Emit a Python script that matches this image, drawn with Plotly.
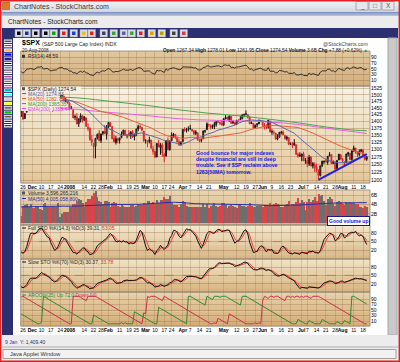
import numpy as np
import pandas as pd
import plotly.graph_objects as go

W, H = 400, 362
FONT = "Liberation Sans"

# ---------------- DATA ----------------
holidays = ["2007-11-22", "2007-12-25", "2008-01-01", "2008-01-21", "2008-02-18",
            "2008-03-21", "2008-05-26", "2008-07-04"]

# warm-up history (Sep 4 - Nov 21 2007), used only for indicator look-back
prior_close = [1489.4, 1472.3, 1478.6, 1453.6, 1451.7, 1471.5, 1471.6, 1483.9, 1484.3, 1476.7, 1519.8, 1529.0, 1518.8, 1525.8, 1517.7, 1517.2, 1525.4, 1531.4, 1526.8,
               1547.0, 1546.6, 1539.6, 1542.8, 1557.6, 1552.6, 1565.2, 1562.5, 1554.4, 1561.8, 1548.7, 1538.5, 1541.2, 1540.1, 1500.6, 1506.3, 1519.6, 1515.9, 1514.4, 1535.3, 1541.0, 1531.0, 1549.4,
               1508.4, 1509.7, 1502.2, 1520.3, 1475.6, 1474.8, 1453.7, 1439.2, 1481.1, 1470.6, 1451.2, 1458.7, 1433.3, 1439.7, 1416.8]
prior_high = [1496.4, 1488.8, 1481.5, 1478.6, 1462.8, 1472.4, 1479.5, 1489.6, 1486.0, 1484.3, 1519.9, 1538.7, 1529.1, 1530.9, 1530.2, 1518.0, 1529.4, 1532.0, 1533.7,
              1549.0, 1548.0, 1546.6, 1544.8, 1561.9, 1557.6, 1565.4, 1565.3, 1576.1, 1563.0, 1564.7, 1548.7, 1552.8, 1541.2, 1540.1, 1508.1, 1520.2, 1519.6, 1523.2, 1535.5, 1544.7, 1541.0, 1552.8,
              1549.4, 1513.2, 1510.8, 1520.8, 1515.5, 1482.5, 1474.8, 1464.9, 1481.4, 1492.1, 1472.4, 1462.2, 1458.7, 1452.6, 1439.7]
prior_low = [1472.2, 1466.3, 1467.4, 1449.1, 1439.3, 1451.7, 1465.8, 1471.6, 1473.2, 1471.8, 1476.7, 1519.8, 1516.4, 1518.8, 1516.2, 1507.1, 1518.8, 1525.4, 1521.0,
             1527.3, 1540.4, 1536.3, 1537.6, 1542.8, 1549.0, 1551.8, 1555.5, 1546.7, 1554.4, 1540.8, 1537.9, 1529.4, 1529.0, 1500.3, 1490.4, 1503.6, 1489.6, 1500.5, 1514.4, 1535.3, 1529.6, 1531.0,
             1506.8, 1492.5, 1489.6, 1499.1, 1475.0, 1450.3, 1453.0, 1438.5, 1439.2, 1466.5, 1443.5, 1443.9, 1430.0, 1419.3, 1415.5]
prior_vol = [2.6, 2.6, 2.4, 3.2, 2.8, 2.8, 2.7, 2.9, 2.6, 2.6, 3.7, 3.6, 2.9, 3.7, 3.0, 3.2, 3.1, 2.9, 2.9,
             3.3, 3.0, 3.1, 2.7, 2.9, 2.0, 2.9, 3.0, 3.9, 2.8, 3.1, 3.2, 3.6, 3.2, 4.0, 3.5, 3.0, 4.0, 4.2, 3.6, 3.1, 3.2, 3.9,
             4.2, 4.7, 3.8, 3.9, 4.4, 5.4, 4.6, 4.2, 4.1, 4.0, 3.9, 4.2, 4.2, 4.9, 4.1]

# visible period: Nov 23 2007 - Aug 20 2008 (daily)
open_ = [1417.0, 1440.7, 1409.6, 1432.9, 1467.4, 1471.8,
         1479.6, 1471.3, 1465.4, 1484.6, 1508.6, 1505.1, 1516.7, 1487.6, 1483.3, 1486.2, 1465.1, 1445.9, 1454.7, 1456.4, 1463.2, 1484.6, 1495.1, 1495.1, 1479.8, 1475.3,
         1468.0, 1447.6, 1444.0, 1414.1, 1415.7, 1390.3, 1406.8, 1419.9, 1402.9, 1411.9, 1377.4, 1374.6, 1333.9, 1312.9, 1310.4, 1340.1, 1357.3, 1330.7, 1355.9, 1362.2, 1352.0,
         1378.6, 1395.4, 1380.3, 1339.5, 1324.0, 1336.9, 1331.9, 1340.6, 1353.1, 1367.3, 1347.5, 1355.9, 1348.4, 1362.2, 1344.2, 1352.8, 1371.8, 1379.0, 1378.2, 1364.1,
         1330.5, 1329.6, 1327.7, 1332.2, 1301.5, 1293.2, 1274.4, 1321.1, 1305.3, 1316.1, 1283.2, 1277.2, 1331.0, 1299.7, 1330.3, 1349.1, 1352.5, 1340.3, 1327.0, 1315.9,
         1326.4, 1370.0, 1365.7, 1369.9, 1373.7, 1370.2, 1365.5, 1355.4, 1358.0, 1332.2, 1331.7, 1337.0, 1363.4, 1369.0, 1387.7, 1386.4, 1378.4, 1380.5, 1387.8, 1398.0, 1395.6, 1391.2,
         1386.0, 1409.2, 1415.3, 1405.6, 1417.5, 1394.3, 1394.9, 1389.4, 1404.4, 1405.7, 1408.4, 1423.9, 1425.3, 1424.5, 1414.1, 1390.8, 1392.2, 1376.0, 1386.5, 1390.5, 1398.4,
         1399.6, 1386.4, 1376.3, 1377.5, 1400.1, 1360.8, 1359.0, 1357.1, 1335.8, 1341.8, 1358.9, 1360.7, 1349.6, 1336.9, 1341.0, 1319.8, 1317.2, 1314.5, 1316.3, 1283.6, 1278.1,
         1276.7, 1285.8, 1263.0, 1262.9, 1251.8, 1273.4, 1245.3, 1248.7, 1241.6, 1226.8, 1214.6, 1246.3, 1258.2, 1261.8, 1257.1, 1278.9, 1283.2, 1253.1, 1257.8, 1236.4, 1264.5, 1281.4,
         1269.4, 1253.3, 1254.9, 1284.0, 1286.5, 1266.3, 1294.4, 1304.8, 1288.6, 1282.1, 1293.9, 1298.1, 1276.7, 1267.34]
high = [1440.9, 1446.1, 1429.5, 1471.6, 1473.8, 1488.9,
        1481.2, 1471.3, 1486.1, 1508.0, 1510.6, 1518.3, 1523.6, 1512.0, 1489.4, 1486.7, 1465.1, 1460.2, 1464.4, 1461.5, 1485.4, 1497.6, 1498.9, 1495.1, 1488.0, 1475.8,
        1471.8, 1456.8, 1444.0, 1423.9, 1430.3, 1409.2, 1429.1, 1419.9, 1417.9, 1411.9, 1392.0, 1377.5, 1350.3, 1322.0, 1339.1, 1355.2, 1368.6, 1354.0, 1364.9, 1385.9, 1385.6,
        1396.0, 1395.4, 1380.3, 1352.0, 1347.2, 1341.2, 1341.4, 1362.7, 1369.2, 1368.2, 1350.0, 1367.3, 1363.7, 1367.9, 1354.3, 1372.0, 1387.3, 1388.3, 1378.2, 1364.1,
        1335.1, 1331.0, 1344.2, 1332.2, 1313.2, 1295.0, 1320.7, 1333.3, 1321.7, 1321.5, 1287.5, 1330.7, 1341.5, 1330.7, 1359.7, 1357.5, 1352.5, 1345.6, 1334.9, 1328.5,
        1370.2, 1378.0, 1375.7, 1380.9, 1386.7, 1370.2, 1368.4, 1367.2, 1358.0, 1335.6, 1337.7, 1365.5, 1368.6, 1395.9, 1390.2, 1386.4, 1387.9, 1397.7, 1399.1, 1402.9, 1397.0, 1404.6,
        1410.1, 1422.7, 1415.3, 1421.6, 1419.5, 1402.4, 1394.9, 1404.1, 1406.3, 1420.2, 1424.4, 1425.8, 1440.2, 1424.5, 1419.1, 1399.1, 1392.2, 1387.4, 1391.3, 1406.3, 1404.5,
        1399.6, 1393.1, 1388.2, 1404.1, 1400.1, 1370.6, 1366.8, 1357.1, 1353.0, 1360.0, 1364.7, 1366.6, 1349.6, 1347.7, 1341.0, 1323.8, 1326.0, 1335.6, 1316.3, 1289.5, 1290.3,
        1285.3, 1292.2, 1271.5, 1274.0, 1282.1, 1277.4, 1257.7, 1257.2, 1253.5, 1234.4, 1245.5, 1262.3, 1262.2, 1267.7, 1277.4, 1291.2, 1283.2, 1263.2, 1260.1, 1263.2, 1284.3, 1284.9,
        1270.5, 1260.5, 1284.9, 1291.7, 1286.5, 1297.9, 1313.2, 1304.8, 1294.0, 1300.1, 1302.1, 1300.2, 1276.7, 1278.01]
low = [1417.0, 1406.1, 1407.4, 1432.9, 1458.4, 1470.0,
       1470.1, 1460.7, 1465.4, 1482.2, 1502.7, 1504.7, 1475.9, 1468.2, 1469.2, 1467.8, 1445.4, 1435.6, 1445.3, 1447.5, 1463.2, 1484.6, 1488.2, 1475.9, 1471.7, 1465.1,
       1442.1, 1443.7, 1411.2, 1403.5, 1388.3, 1378.7, 1395.3, 1394.8, 1402.9, 1380.6, 1364.3, 1330.7, 1312.5, 1270.1, 1270.1, 1334.3, 1327.5, 1322.3, 1350.3, 1353.0, 1334.1,
       1375.9, 1379.7, 1336.6, 1324.3, 1316.8, 1321.1, 1320.3, 1339.1, 1350.8, 1347.3, 1338.1, 1345.1, 1336.6, 1339.9, 1331.5, 1346.3, 1363.3, 1372.0, 1363.2, 1325.4,
       1320.0, 1307.4, 1320.7, 1303.4, 1282.4, 1272.7, 1274.4, 1307.9, 1282.1, 1274.9, 1257.0, 1277.2, 1298.4, 1295.2, 1330.3, 1341.2, 1336.4, 1325.7, 1313.0, 1312.8,
       1326.4, 1361.6, 1358.7, 1362.8, 1369.0, 1360.6, 1350.0, 1350.1, 1331.2, 1324.3, 1324.4, 1337.0, 1357.3, 1369.0, 1379.3, 1369.8, 1372.2, 1371.1, 1380.0, 1394.4, 1386.7, 1384.1,
       1383.1, 1406.3, 1404.4, 1397.1, 1391.2, 1389.4, 1384.1, 1386.2, 1396.3, 1405.7, 1406.9, 1414.6, 1421.6, 1409.1, 1388.8, 1390.2, 1373.7, 1373.1, 1378.2, 1388.6, 1398.1,
       1377.8, 1370.1, 1371.7, 1373.1, 1359.9, 1350.7, 1351.6, 1335.5, 1331.3, 1341.7, 1352.1, 1350.5, 1333.4, 1330.4, 1314.5, 1315.3, 1304.4, 1314.5, 1283.2, 1272.0, 1274.9,
       1260.7, 1261.5, 1252.0, 1240.7, 1245.0, 1244.6, 1236.8, 1225.4, 1225.0, 1200.4, 1211.4, 1241.4, 1251.8, 1255.7, 1248.8, 1276.1, 1251.5, 1251.8, 1234.4, 1236.4, 1264.5, 1266.0,
       1254.5, 1247.5, 1254.7, 1276.0, 1264.3, 1262.1, 1292.8, 1285.6, 1274.9, 1276.8, 1290.7, 1274.5, 1263.1, 1261.95]
close = [1440.7, 1407.2, 1428.2, 1469.0, 1470.0, 1481.1,
         1472.4, 1462.8, 1485.0, 1507.3, 1504.7, 1516.0, 1477.7, 1486.6, 1488.4, 1468.0, 1445.9, 1455.0, 1453.0, 1460.1, 1484.5, 1496.5, 1497.7, 1476.3, 1478.5, 1468.4,
         1447.2, 1447.2, 1411.6, 1416.2, 1390.2, 1409.1, 1420.3, 1401.0, 1416.3, 1381.0, 1373.2, 1333.3, 1325.2, 1310.5, 1338.6, 1352.1, 1330.6, 1354.0, 1362.3, 1355.8, 1378.6,
         1395.4, 1380.8, 1336.6, 1326.5, 1336.9, 1331.3, 1339.1, 1348.9, 1367.2, 1348.9, 1350.0, 1348.8, 1360.0, 1342.5, 1353.1, 1371.8, 1381.3, 1380.0, 1367.7, 1330.6,
         1331.3, 1326.8, 1333.7, 1304.3, 1293.4, 1273.4, 1320.7, 1308.8, 1315.5, 1288.1, 1276.6, 1330.7, 1298.4, 1329.5, 1349.9, 1353.0, 1341.1, 1325.8, 1315.2, 1322.7,
         1370.2, 1367.5, 1369.3, 1370.4, 1372.5, 1365.5, 1354.5, 1360.6, 1332.8, 1328.3, 1334.4, 1364.7, 1365.6, 1390.3, 1388.2, 1375.9, 1379.9, 1388.8, 1397.8, 1396.4, 1390.9, 1385.6,
         1409.3, 1413.9, 1407.5, 1418.3, 1392.6, 1397.7, 1388.3, 1403.6, 1403.0, 1408.7, 1423.6, 1425.4, 1426.6, 1413.4, 1390.7, 1394.4, 1375.9, 1385.4, 1390.8, 1398.3, 1400.4,
         1385.7, 1377.7, 1377.2, 1404.1, 1360.7, 1361.8, 1358.4, 1335.5, 1339.9, 1360.0, 1360.1, 1350.9, 1337.8, 1342.8, 1317.9, 1318.0, 1314.3, 1322.0, 1283.2, 1278.4, 1280.0,
         1284.9, 1261.5, 1262.9, 1252.3, 1273.7, 1244.7, 1253.4, 1239.5, 1228.3, 1214.9, 1245.4, 1260.3, 1260.7, 1260.0, 1277.0, 1282.2, 1252.5, 1257.8, 1234.4, 1263.2, 1284.3, 1267.4,
         1260.3, 1249.0, 1284.9, 1289.2, 1266.1, 1296.3, 1305.3, 1289.6, 1285.8, 1292.9, 1298.2, 1278.6, 1266.7, 1274.54]
volume = [1.6, 3.7, 4.0, 4.2, 3.4, 4.2,
          3.3, 3.3, 3.6, 3.5, 3.1, 2.9, 4.1, 4.4, 3.6, 3.4, 3.6, 3.7, 3.4, 3.5, 4.4, 1.3, 2.0, 2.4, 2.4, 2.4,
          3.5, 3.4, 4.2, 4.2, 4.7, 5.2, 5.1, 4.4, 3.6, 4.5, 5.3, 5.2, 5.9, 6.5, 7.0, 5.7, 4.9, 4.6, 4.1, 4.7, 4.9,
          4.6, 3.5, 4.3, 4.5, 4.4, 3.7, 3.5, 4.0, 3.8, 3.6, 3.5, 3.4, 3.9, 3.9, 3.6, 3.8, 4.1, 3.9, 3.9, 4.4,
          4.1, 4.7, 4.8, 4.3, 4.5, 4.2, 5.0, 4.3, 5.1, 5.1, 5.6, 5.2, 5.3, 5.9, 4.4, 4.0, 4.0, 3.9, 3.6, 4.1,
          4.7, 4.5, 3.8, 3.6, 3.6, 3.5, 3.5, 3.6, 3.6, 3.5, 3.5, 4.2, 3.6, 4.1, 3.3, 3.7, 4.0, 4.4, 3.8, 3.5, 3.7, 4.4,
          4.3, 3.9, 3.3, 3.8, 3.9, 3.7, 3.4, 3.2, 3.9, 3.9, 3.7, 3.7, 3.6, 3.8, 4.4, 3.7, 3.4, 3.5, 3.8, 3.8, 3.7,
          3.6, 4.0, 4.0, 4.0, 4.3, 3.9, 4.1, 4.3, 4.2, 3.9, 3.4, 3.5, 4.0, 4.2, 4.9, 3.8, 4.2, 4.2, 4.6, 5.5, 4.4,
          5.1, 4.6, 2.8, 4.6, 5.2, 4.5, 5.0, 5.6, 4.7, 6.2, 5.9, 6.0, 4.9, 4.0, 5.2, 5.7, 5.3, 4.1, 3.7, 4.5, 4.8, 4.6,
          4.1, 4.0, 4.6, 4.3, 4.6, 4.3, 4.4, 4.1, 4.2, 3.6, 3.5, 3.3, 3.7, 3.6]

# long moving averages (weekly samples, trading-day index from Nov 23)
ma_long_idx = [0, 5, 10, 15, 20, 25, 30, 35, 40, 45, 50, 55, 60, 65, 70, 75, 80, 85, 90, 95, 100, 105, 110,
               115, 120, 125, 130, 135, 140, 145, 150, 155, 160, 165, 170, 175, 180, 186]
ma200 = [1490, 1491, 1492, 1492, 1491, 1490, 1488, 1485, 1481, 1477, 1473, 1469, 1465, 1461, 1457, 1452, 1447, 1442, 1438,
         1434, 1430, 1427, 1424, 1421, 1418, 1414, 1410, 1406, 1402, 1398, 1393, 1388, 1383, 1378, 1374, 1370, 1367, 1365.35]
ema200 = [1447, 1447, 1447, 1447, 1447, 1446, 1444, 1441, 1437, 1434, 1431, 1428, 1425, 1422, 1419, 1415, 1412, 1409, 1407,
          1405, 1404, 1403, 1402, 1401, 1401, 1400, 1398, 1396, 1394, 1391, 1387, 1383, 1378, 1374, 1369, 1365, 1361, 1355.44]

trend_dates = ["2008-07-15", "2008-08-20"]
trend_prices = [1200.4, 1284.0]

tick_dates = ["2007-11-26", "2007-12-03", "2007-12-10", "2007-12-17", "2007-12-24", "2008-01-02", "2008-01-14", "2008-01-22",
              "2008-01-28", "2008-02-01", "2008-02-11", "2008-02-19", "2008-02-25", "2008-03-03", "2008-03-10", "2008-03-17",
              "2008-03-24", "2008-04-01", "2008-04-07", "2008-04-14", "2008-04-21", "2008-05-01", "2008-05-12", "2008-05-19",
              "2008-05-27", "2008-06-02", "2008-06-09", "2008-06-16", "2008-06-23", "2008-07-01", "2008-07-07", "2008-07-14",
              "2008-07-21", "2008-07-28", "2008-08-01", "2008-08-11", "2008-08-18"]
tick_labels = ["26", "<b>Dec</b>", "10", "17", "24", "<b>2008</b>", "14", "22", "28", "<b>Feb</b>", "11", "19", "25", "<b>Mar</b>",
               "10", "17", "24", "<b>Apr</b>", "7", "14", "21", "<b>May</b>", "12", "19", "27", "<b>Jun</b>", "9", "16", "23",
               "<b>Jul</b>", "7", "14", "21", "28", "<b>Aug</b>", "11", "18"]

rsi_ticks = [90, 70, 50, 30, 10]
price_ticks = [1525, 1500, 1475, 1450, 1425, 1400, 1375, 1350, 1325, 1300, 1275, 1250, 1225, 1200]
vol_ticks = [2, 4, 6]
vol_tick_labels = ["2B", "4B", "6B"]
sto_ticks = [80, 50, 20]
aroon_ticks = [90, 70, 50, 30, 10]

# ---------------- DATES / INDICATORS ----------------
days = pd.bdate_range("2007-09-04", "2008-08-20")
days = days[~days.isin(pd.to_datetime(holidays))]
n_prior = len(prior_close)
assert len(days) == n_prior + len(close), (len(days), n_prior + len(close))
vis_days = days[n_prior:]
pos_of = {d.strftime("%Y-%m-%d"): i for i, d in enumerate(vis_days)}
xpos = np.arange(len(close))

C = pd.Series(prior_close + close, dtype=float)
Hh = pd.Series(prior_high + high, dtype=float)
Ll = pd.Series(prior_low + low, dtype=float)
V = pd.Series(prior_vol + volume, dtype=float)

ma20 = C.rolling(20).mean()
ma50 = C.rolling(50).mean()
dlt = C.diff()
up_ = dlt.clip(lower=0).ewm(alpha=1 / 14, adjust=False).mean()
dn_ = (-dlt).clip(lower=0).ewm(alpha=1 / 14, adjust=False).mean()
rsi = 100 - 100 / (1 + up_ / dn_)
fk = 100 * (C - Ll.rolling(14).min()) / (Hh.rolling(14).max() - Ll.rolling(14).min())
fullK = fk.rolling(3).mean()
fullD = fullK.rolling(3).mean()
sk_raw = 100 * (C - Ll.rolling(70, min_periods=20).min()) / (Hh.rolling(70, min_periods=20).max() - Ll.rolling(70, min_periods=20).min())
slowK = sk_raw.rolling(3).mean()
slowD = slowK.rolling(3).mean()
aroon_up = Hh.rolling(26).apply(lambda w: 100 * (25 - np.argmax(w[::-1])) / 25, raw=True)
aroon_dn = Ll.rolling(26).apply(lambda w: 100 * (25 - np.argmin(w[::-1])) / 25, raw=True)
vol_ma = V.rolling(50).mean()

def vis(s):
    return np.asarray(s)[n_prior:]

prev_close = np.asarray(C.shift(1))[n_prior:]
is_down = np.asarray(close) < prev_close

# ---------------- LAYOUT GEOMETRY ----------------
X0, X1 = 20.7, 370.0
XR = [(X0 - 21.142) / 1.858, (X1 - 21.142) / 1.858]
panels = {
    "rsi": (51, 86, [-11.5, 114]),
    "price": (86, 183, [3.0758, 3.1861]),
    "vol": (190, 225, [-0.37, 7.16]),
    "fsto": (225, 259, [-11.6, 108.1]),
    "ssto": (259, 292, [-9.3, 108.6]),
    "aroon": (292, 326, [-8, 115.6]),
}
order = ["rsi", "price", "vol", "fsto", "ssto", "aroon"]
ax = {k: str(i + 1) if i else "" for i, k in enumerate(order)}

def fx(x):
    return x / W

def fy(y):
    return 1 - y / H

shapes, annos = [], []

def rect(x0, y0, x1, y1, fill=None, line=None, lw=0, layer="below"):
    shapes.append(dict(type="rect", xref="paper", yref="paper", x0=fx(x0), x1=fx(x1), y0=fy(y1), y1=fy(y0),
                       fillcolor=fill or "rgba(0,0,0,0)", line=dict(color=line or "rgba(0,0,0,0)", width=lw), layer=layer))

def seg(x0, y0, x1, y1, color, lw=1, layer="below", dash="solid"):
    shapes.append(dict(type="line", xref="paper", yref="paper", x0=fx(x0), x1=fx(x1), y0=fy(y0), y1=fy(y1),
                       line=dict(color=color, width=lw, dash=dash), layer=layer))

def txt(x, y, s, size=5.5, color="#000", anchor="left", bg=None, family=FONT, border=None):
    d = dict(x=fx(x), y=fy(y), xref="paper", yref="paper", text=s, showarrow=False, xanchor=anchor, yanchor="middle",
             font=dict(size=size, color=color, family=family), borderpad=0)
    if bg:
        d["bgcolor"] = bg
    if border:
        d["bordercolor"] = border
        d["borderwidth"] = 1
        d["borderpad"] = 1
    annos.append(d)

def hexrgb(h):
    h = h.lstrip("#")
    return [int(h[i:i + 2], 16) for i in (0, 2, 4)]

def mix(a, b, t):
    a, b = hexrgb(a), hexrgb(b)
    return "rgb(%d,%d,%d)" % tuple(round(a[i] + (b[i] - a[i]) * t) for i in range(3))

def grad(x0, y0, x1, y1, ctop, cbot, n=12):
    for i in range(n):
        t = i / (n - 1)
        rect(x0, y0 + (y1 - y0) * i / n, x1, y0 + (y1 - y0) * (i + 1) / n + 0.4, fill=mix(ctop, cbot, t))

# --- window chrome ---
grad(0, 0, 400, 12, "#f4f5f8", "#d3d8e2", n=6)
grad(0, 12, 400, 16, "#7f93bd", "#b6c2da", n=3)
rect(0, 16, 400, 28, fill="#ececec")
rect(2, 28, 398, 38, fill="#2d3070")
rect(2, 38, 13, 335, fill="#2d3070")
rect(13, 38, 388, 335, fill="#ffffff")
rect(388, 38, 397, 335, fill="#c9c9c9", line="#a8a8a8", lw=1)
rect(2, 335, 398, 360, fill="#ececec")
seg(2, 347, 398, 347, "#b0b0b0", 1)
rect(3, 349.5, 396, 358.5, fill="#f2f2f2", line="#a0a0a0", lw=1)
rect(2.5, 2, 9.5, 9.5, fill="#e07a2a", line="#a04010", lw=0.5)
for bx in (356, 369, 382):
    rect(bx, 1.5, bx + 12, 10, fill="#e6e8ee", line="#8c8c99", lw=0.7)

# toolbar icons
icon_x = [15, 23, 32, 42, 50, 60, 70, 80, 88, 100, 110, 120, 128, 137, 148, 158, 170, 180]
icon_glyph = ["#000000", "#2030a0", "#000000", "#000000", "#18a018", "#e02020", "#2040d0", "#e0c020", "#e02020",
              "#404060", "#40a040", "#6060a0", "#40a040", "#e02020", "#e0a000", "#c0a000", "#404040", "#d04040"]
for ix, gc in zip(icon_x, icon_glyph):
    rect(ix, 29.5, ix + 7.5, 37, fill="#dcdce6", line="#9a9ab0", lw=0.5)
    rect(ix + 2, 31.5, ix + 5.5, 35, fill=gc)

# sidebar swatches
side_cols = ["#000000", "#e00000", "#ff8000", "#0000ff", "#1a1aa0", "#000000", "#404040", "#808080", "#800080", "#804000",
             "#ff00ff", "#00c0c0", "#00ffff", "#a0a0a0", "#ffff00", "#000000", "#00c000", "#000000", "#000000", "#000000"]
for i, c in enumerate(side_cols):
    y0 = 39.5 + i * 4.45
    rect(4, y0, 12, y0 + 3.4, fill="#ffffff")
    if c in ("#0000ff", "#1a1aa0", "#00c0c0", "#ffff00", "#00c000"):
        rect(4.5, y0 + 0.5, 11.5, y0 + 2.9, fill=c)
    else:
        seg(4.5, y0 + 1.7, 11.5, y0 + 1.7, c, 1)

# panel gradients
grad_cols = {
    "rsi": ("#e0c79c", "#d3af7f"),
    "price": ("#f6f0e0", "#e4c89c"),
    "vol": ("#e8d4ae", "#d9b685"),
    "fsto": ("#f2e6cb", "#d9b684"),
    "ssto": ("#efe2c3", "#d8b481"),
    "aroon": ("#e6cfa6", "#d5ae7a"),
}
for k in order:
    t, b, _ = panels[k]
    grad(X0, t, X1, b, *grad_cols[k], n=14)

# ---------------- TRACES ----------------
fig = go.Figure()
RED = "#e0262c"
BLK = "#111111"

def xy(k):
    return dict(xaxis="x" + ax[k], yaxis="y" + ax[k])

fig.add_trace(go.Scatter(x=xpos, y=vis(rsi), mode="lines", line=dict(color="#222", width=0.9), **xy("rsi")))

fig.add_trace(go.Scatter(x=ma_long_idx, y=ma200, mode="lines", line=dict(color="#4ea04e", width=1, shape="spline"), **xy("price")))
fig.add_trace(go.Scatter(x=ma_long_idx, y=ema200, mode="lines", line=dict(color="#ec5ee0", width=1, shape="spline"), **xy("price")))
fig.add_trace(go.Scatter(x=xpos, y=vis(ma50), mode="lines", line=dict(color="#ee5c3a", width=1), **xy("price")))
fig.add_trace(go.Scatter(x=xpos, y=vis(ma20), mode="lines", line=dict(color="#6464aa", width=1), **xy("price")))

o, hi, lo, cl = map(np.asarray, (open_, high, low, close))
for mask, col in ((is_down, RED), (~is_down, BLK)):
    fig.add_trace(go.Candlestick(x=xpos[mask], open=o[mask], high=hi[mask], low=lo[mask], close=cl[mask],
                                 increasing=dict(line=dict(color=col, width=1), fillcolor="rgba(0,0,0,0)"),
                                 decreasing=dict(line=dict(color=col, width=1), fillcolor=col),
                                 whiskerwidth=0, showlegend=False, **xy("price")))

fig.add_trace(go.Scatter(x=[pos_of[d] for d in trend_dates], y=trend_prices, mode="lines",
                         line=dict(color="#2222dd", width=2), **xy("price")))

vcols = np.where(is_down, "#d9444a", "#6e6e6e")
fig.add_trace(go.Bar(x=xpos, y=volume, marker=dict(color=list(vcols), line=dict(width=0)), width=0.78, **xy("vol")))
fig.add_trace(go.Scatter(x=xpos, y=vis(vol_ma), mode="lines", line=dict(color="#2a2aa8", width=1), **xy("vol")))

fig.add_trace(go.Scatter(x=xpos, y=vis(fullD), mode="lines", line=dict(color="#f04040", width=1), **xy("fsto")))
fig.add_trace(go.Scatter(x=xpos, y=vis(fullK), mode="lines", line=dict(color="#111", width=1), **xy("fsto")))
fig.add_trace(go.Scatter(x=xpos, y=vis(slowD), mode="lines", line=dict(color="#f04040", width=1), **xy("ssto")))
fig.add_trace(go.Scatter(x=xpos, y=vis(slowK), mode="lines", line=dict(color="#111", width=1), **xy("ssto")))
fig.add_trace(go.Scatter(x=xpos, y=vis(aroon_dn), mode="lines", line=dict(color="#c8324a", width=1), **xy("aroon")))
fig.add_trace(go.Scatter(x=xpos, y=vis(aroon_up), mode="lines", line=dict(color="#2f8a2f", width=1), **xy("aroon")))

# ---------------- AXES ----------------
tickpos = [pos_of[d] for d in tick_dates]
layout = dict(width=W, height=H, margin=dict(l=0, r=0, t=0, b=0), paper_bgcolor="#e4e6ea",
              plot_bgcolor="rgba(0,0,0,0)", showlegend=False, bargap=0, barmode="overlay",
              font=dict(family=FONT, size=5.5, color="#000"))
ytick = {
    "rsi": (rsi_ticks, [str(v) for v in rsi_ticks]),
    "price": (price_ticks, [str(v) for v in price_ticks]),
    "vol": (vol_ticks, vol_tick_labels),
    "fsto": (sto_ticks, [str(v) for v in sto_ticks]),
    "ssto": (sto_ticks, [str(v) for v in sto_ticks]),
    "aroon": (aroon_ticks, [str(v) for v in aroon_ticks]),
}
for k in order:
    t, b, rng = panels[k]
    a = ax[k]
    layout["xaxis" + a] = dict(domain=[fx(X0), fx(X1)], range=XR, anchor="y" + a, tickvals=tickpos, ticktext=tick_labels,
                               showticklabels=k in ("price", "aroon"), tickfont=dict(size=5.0, family=FONT),
                               tickangle=0, ticks="", ticklen=0, showgrid=True, gridcolor="rgba(150,115,70,0.28)", gridwidth=0.6,
                               zeroline=False, showline=False, fixedrange=True, rangeslider=dict(visible=False))
    tv, tt = ytick[k]
    layout["yaxis" + a] = dict(domain=[fy(b), fy(t)], range=rng, anchor="x" + a, side="right", tickvals=tv, ticktext=tt,
                               type="log" if k == "price" else "linear", tickfont=dict(size=5.0, family=FONT),
                               ticks="", showgrid=True, gridcolor="rgba(140,100,60,0.35)", gridwidth=0.6,
                               zeroline=False, showline=False, fixedrange=True)

# 50 dashed lines for stochastics
for k in ("fsto", "ssto"):
    shapes.append(dict(type="line", xref="paper", yref="y" + ax[k], x0=fx(X0), x1=fx(X1), y0=50, y1=50,
                       line=dict(color="rgba(110,80,50,0.6)", width=0.7, dash="dash"), layer="below"))

# panel frames
for k in order:
    t, b, _ = panels[k]
    rect(X0, t, X1, b, line="#8d8478", lw=0.8, layer="above")

# legend boxes over price panel
rect(X0 + 0.4, 86.5, 81, 91, fill="#f6f0e0", layer="above")
rect(X0 + 0.4, 91, 60, 111, fill="#f4ecda", layer="above")
# small icons before panel labels
rect(22, 54.8, 25, 57.8, fill="#333333", layer="above")
rect(22, 87.2, 25, 90.2, fill="#555555", layer="above")
rect(22, 191.5, 25, 194.5, fill="#555555", layer="above")

# ---------------- TEXT ----------------
txt(13, 6.3, "ChartNotes - StockCharts.com", 7, "#3a3a3a")
txt(7, 22, "ChartNotes - StockCharts.com", 6.6, "#1a1a1a")
for bx, g in zip((356, 369, 382), ("_", "□", "X")):
    txt(bx + 6, 5.6, g, 6.5, "#555", "center")

txt(21, 43, "<b>$SPX</b>", 7, "#000")
txt(41, 43.5, "(S&P 500 Large Cap Index) INDX", 5.0, "#222")
txt(21, 50.6, "20-Aug-2008", 4.6, "#222")
txt(369, 43.5, "@StockCharts.com", 5.2, "#444", "right")
txt(369, 50.2, "<b>Open</b> 1267.34 <b>High</b> 1278.01 <b>Low</b> 1261.95 <b>Close</b> 1274.54 "
               "<b>Volume</b> 3.6B <b>Chg</b> +7.88 (+0.62%) <span style='color:#20a020'>▲</span>", 4.8, "#111", "right")

txt(26.8, 56.5, "RSI(14) 48.59", 4.8, "#222")
txt(26.8, 88.7, "$SPX (Daily) 1274.54", 5.0, "#222")
leg = [("MA(20) 1274.83", "#5858a8"), ("MA(50) 1282.79", "#e8502e"), ("MA(200) 1365.35", "#3c963c"), ("EMA(200) 1355.44", "#e040d8")]
for i, (s, c) in enumerate(leg):
    yy = 93.6 + i * 5
    seg(22, yy, 26, yy, c, 1, layer="above")
    txt(26.8, yy, s, 5.0, c)

txt(26.8, 193, "Volume 3,596,265,216", 5.0, "#222")
seg(22, 198.5, 26, 198.5, "#2a2aa8", 1, layer="above")
txt(26.8, 198.5, "MA(50) 4,005,058,800", 5.0, "#2a2aa8")
seg(22, 228, 26, 228, "#111", 1, layer="above")
txt(26.8, 228, "Full STO %K(14,3) %D(3) 39.31, <span style='color:#e03030'>53.05</span>", 5.0, "#222")
seg(22, 262, 26, 262, "#111", 1, layer="above")
txt(26.8, 262, "Slow STO %K(70) %D(3) 30.37, <span style='color:#e03030'>33.78</span>", 5.0, "#222")
seg(22, 295, 26, 295, "#2f8a2f", 1, layer="above")
txt(26.8, 295, "AROON(25) <span style='color:#2f8a2f'>Up 72.0</span> <span style='color:#d03040'>Down 0.0</span>", 5.0, "#2f8a2f")

note = ["Good bounce for major indexes", "despite financial are still in deep",
        "trouble. See if $SP reclaim above", "1283(50MA) tomorrow."]
for i, s in enumerate(note):
    txt(194.5, 153 + i * 6.2, "<b>" + s + "</b>", 5.2, "#1414e6")

txt(369.5, 220.5, "<b>Good volume up</b>", 5.0, "#1414d0", "right", bg="#ffffff", border="#1a1a80")

txt(3.5, 341.5, "<span style='color:#2b2bd0'>9 Jan</span>  Y: 1,409.40", 5.0, "#2b2b70")
txt(9, 354, "Java Applet Window", 5.6, "#333")

# outer red border
rect(0.6, 0.6, 399.4, 361.4, line="#e02222", lw=1.6, layer="above")

layout["shapes"] = shapes
layout["annotations"] = annos
fig.update_layout(**layout)
fig.write_html("out.html", config={"displayModeBar": False},
               post_script="document.body.style.margin='0';document.body.style.overflow='hidden';")
